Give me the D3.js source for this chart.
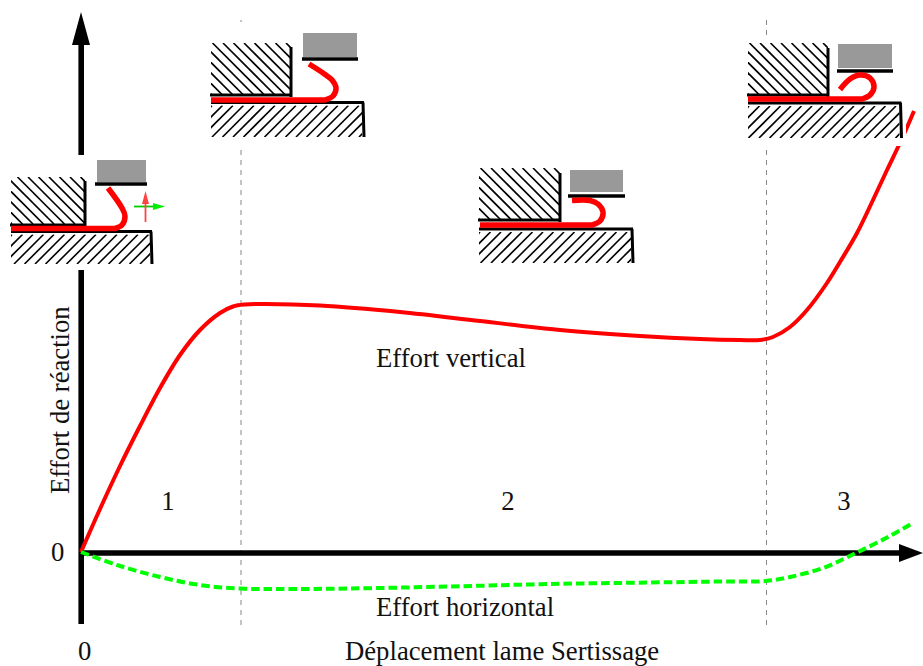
<!DOCTYPE html>
<html><head><meta charset="utf-8">
<script src="https://cdn.jsdelivr.net/npm/d3@7/dist/d3.min.js"></script>
<style>html,body{margin:0;padding:0;background:#fff}svg{display:block}text{font-family:"Liberation Serif","Times New Roman",serif;fill:#111;font-size:26.7px}</style>
</head><body><svg id="c" width="923" height="666"></svg>
<script>
// Curve data (displacement, effort)
const verticalDisp = [0,19,39,59,79,99,119,139,152,164,184,239,319,399,479,559,619,659,679,692,709,726,746,759,776,792,806,818,827,833];
const verticalEffort = [0,43,86,126,164,197,222,239,245.5,247.5,248,246.5,240,231,222,216,213,212,212,215,225,242,269,290,319,352,382,407,427,441];
const horizontalDisp = [0,36,79,119,159,199,269,369,469,569,642,685,709,742,775,809,832];
const horizontalEffort = [0,-13,-25,-33,-36.5,-37,-36.5,-34.5,-32,-30.5,-29.5,-29,-25,-16,-1,16,29];
const phaseBounds = [160,685.5];
const phaseLabels = ["1","2","3"];
const phaseLabelDisp = [87,427,763];

const x=d3.scaleLinear().domain([0,842]).range([81,923]);
const y=d3.scaleLinear().domain([0,552]).range([552,0]);
const svg=d3.select("#c");
const line=d3.line().x(d=>x(d[0])).y(d=>y(d[1])).curve(d3.curveCatmullRom.alpha(0.5));

// dashed phase separators
svg.selectAll("line.sep").data(phaseBounds).join("line").attr("class","sep")
 .attr("x1",d=>x(d)).attr("x2",d=>x(d)).attr("y1",20).attr("y2",626)
 .attr("stroke","#888").attr("stroke-width",1).attr("stroke-dasharray","5 5");

// axes
svg.append("line").attr("x1",81.2).attr("x2",81.2).attr("y1",40).attr("y2",624).attr("stroke","#000").attr("stroke-width",5.6);
svg.append("path").attr("d","M81,12L90,45L72,45Z").attr("fill","#000");
svg.append("line").attr("x1",81).attr("x2",902).attr("y1",553).attr("y2",553).attr("stroke","#000").attr("stroke-width",5.6);
svg.append("path").attr("d","M923,553L899,544L899,562Z").attr("fill","#000");

// curves
svg.append("path").datum(d3.zip(verticalDisp,verticalEffort)).attr("d",line).attr("fill","none").attr("stroke","#f00").attr("stroke-width",4);
svg.append("path").datum(d3.zip(horizontalDisp,horizontalEffort)).attr("d",line).attr("fill","none").attr("stroke","#0f0").attr("stroke-width",4).attr("stroke-dasharray","8.5 4");

// schematics
const strip=d3.line().curve(d3.curveCatmullRom.alpha(0.5));
const schematics=[
 {box:[5,155,150,115],ux:[11,85],uy:[177,224],wallTop:181,hy:225,ry:228.5,rx0:11,shape:[[115,228.5],[122,225],[125,216],[122,208],[108,188]],ly:231.5,lx1:151,lb:264,g:[97,160,49,22],by:184,bx:[95,147]},
 {box:[205,22,165,126],ux:[211,291],uy:[43,95],wallTop:47,hy:95,ry:100,rx0:211,shape:[[325,100],[333,96],[336,88],[332,80],[323,73],[309,64]],ly:102.5,lx1:363,lb:137,g:[303,33,54,24],by:59,bx:[302,358]},
 {box:[475,160,165,108],ux:[479,560],uy:[168,220],wallTop:173,hy:220,ry:225,rx0:480,shape:[[592,225],[600,221],[603,212],[598,204],[590,200.5],[572,200.5]],ly:229,lx1:632,lb:263,g:[570,170,53,22],by:196,bx:[568,625]},
 {box:[745,36,161,110],ux:[748,828],uy:[43,95],wallTop:48,hy:95,ry:99,rx0:748,shape:[[862,99],[870,95],[874,87],[870,78],[860,75],[850,79],[840,89.5]],ly:103,lx1:900.5,lb:138,g:[838,44,54,24],by:71,bx:[837,893]}
];
const defs=svg.append("defs");
function hatch(i,name,xr,yr,dir){
 const id=`clip-${name}-${i}`;
 defs.append("clipPath").attr("id",id).append("rect").attr("x",xr[0]).attr("y",yr[0]).attr("width",xr[1]-xr[0]).attr("height",yr[1]-yr[0]);
 const g=svg.append("g").attr("clip-path",`url(#${id})`);
 const h=yr[1]-yr[0];
 const starts=d3.range(xr[0]-h-20,xr[1]+h+20,10.5);
 g.selectAll("line").data(starts).join("line")
  .attr("x1",d=>d).attr("y1",dir>0?yr[0]:yr[1])
  .attr("x2",d=>d+h).attr("y2",dir>0?yr[1]:yr[0])
  .attr("stroke","#000").attr("stroke-width",1.6);
}
schematics.forEach((s,i)=>{
 svg.append("rect").attr("x",s.box[0]).attr("y",s.box[1]).attr("width",s.box[2]).attr("height",s.box[3]).attr("fill","#fff");
 hatch(i,"u",s.ux,s.uy,1);
 hatch(i,"l",[s.ux[0],s.lx1-1],[s.ly+3,s.lb],-1);
 const blk=(a,b,c,d,w)=>svg.append("line").attr("x1",a).attr("y1",b).attr("x2",c).attr("y2",d).attr("stroke","#000").attr("stroke-width",w);
 blk(s.ux[1],s.wallTop,s.ux[1],s.hy+2,3);
 blk(s.ux[0]-1,s.hy,s.ux[1],s.hy,3);
 blk(s.ux[0],s.ly,s.lx1+1,s.ly,3);
 blk(s.lx1,s.ly,s.lx1+1,s.lb,3);
 svg.append("rect").attr("x",s.g[0]).attr("y",s.g[1]).attr("width",s.g[2]).attr("height",s.g[3]).attr("fill","#999");
 blk(s.bx[0],s.by,s.bx[1],s.by,3.5);
 svg.append("path").attr("d",`M${s.rx0},${s.ry}`+strip(s.shape).replace(/^M/,"L"))
  .attr("fill","none").attr("stroke","#f00").attr("stroke-width",5.5).attr("stroke-linejoin","round");
});

// small force arrows on first schematic
svg.append("line").attr("x1",134).attr("x2",158).attr("y1",206.5).attr("y2",206.5).attr("stroke","#0c0").attr("stroke-width",1.8);
svg.append("path").attr("d","M165,206.5L153,203L153,210Z").attr("fill","#0e0");
svg.append("line").attr("x1",145.5).attr("x2",145.5).attr("y1",222).attr("y2",198).attr("stroke","#f44").attr("stroke-width",1.8);
svg.append("path").attr("d","M145.5,191L142,204L149,204Z").attr("fill","#f44");

// text
const T=(t,a,b,anc,rot)=>{const e=svg.append("text").attr("x",a).attr("y",b).attr("text-anchor",anc||"start").text(t);if(rot)e.attr("transform",`rotate(${rot} ${a} ${b})`);return e;};
T("Effort vertical",376,367);
T("Effort horizontal",376,616);
T("Déplacement lame Sertissage",345,660);
T("0",51,561);
T("0",78,660);
T("Effort de réaction",69,494,"start",-90);
svg.selectAll("text.ph").data(phaseLabels).join("text").attr("class","ph")
 .attr("x",(d,i)=>x(phaseLabelDisp[i])).attr("y",510).attr("text-anchor","middle").text(d=>d);
</script></body></html>
